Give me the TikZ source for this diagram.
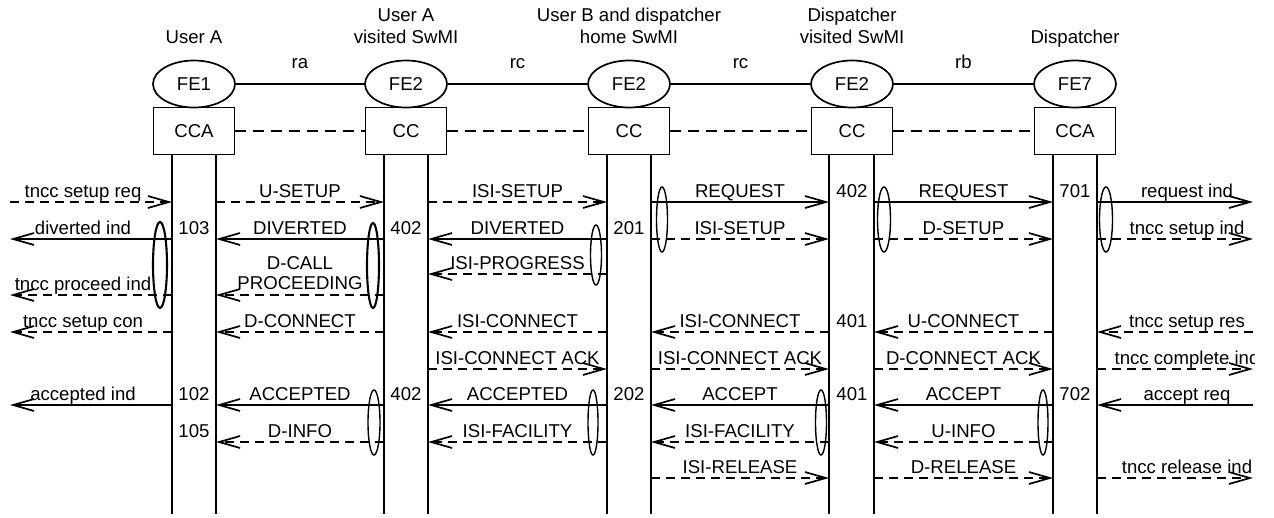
\documentclass[tikz,border=0pt]{standalone}
\usepackage{fontspec}
\setmainfont{Liberation Sans}
\usetikzlibrary{arrows.meta,shapes.geometric}
\newcommand\msgline[5]{\draw[#1] (#2 |- 0,#4) -- node[lbl]{#5} (#3 |- 0,#4);}
\begin{document}
\begin{tikzpicture}[x=1pt,y=-1pt,
  font=\fontsize{18.6pt}{22pt}\selectfont,
  line width=1.7pt,
  fe/.style={draw, ellipse, minimum width=82pt, minimum height=47pt, inner sep=0pt},
  ccbox/.style={draw, rectangle, minimum width=81pt, minimum height=47pt, inner sep=0pt},
  title/.style={anchor=south, align=center, inner sep=0pt, text depth=0pt},
  lbl/.style={anchor=base, inner sep=0pt, yshift=5pt},
  num/.style={anchor=base, inner sep=0pt},
  sol/.style={-{Straight Barb[length=21pt,width=12pt]}},
  das/.style={sol, dash pattern=on 9pt off 6pt},
  boxlink/.style={line width=2pt, dash pattern=on 11pt off 7pt},
  grp/.style={draw, ellipse, inner sep=0pt, line width=1.4pt},
  grpb/.style={grp, line width=2.1pt}]
\useasboundingbox (0,0) rectangle (1274,517);
% titles
\node[title] (t1) at (194,44) {User A};
\node[title] (t2) at (406,44) {User A\\visited SwMI};
\node[title] (t3) at (629,44) {User B and dispatcher\\home SwMI};
\node[title] (t4) at (852,44) {Dispatcher\\visited SwMI};
\node[title] (t5) at (1075,44) {Dispatcher};
% FE ellipses
\node[fe] (fe1) at (194,84) {FE1};
\node[fe] (fe2) at (406,84) {FE2};
\node[fe] (fe3) at (629,84) {FE2};
\node[fe] (fe4) at (852,84) {FE2};
\node[fe] (fe5) at (1075,84) {FE7};
\draw (fe1) -- node[num, yshift=16pt]{ra} (fe2);
\draw (fe2) -- node[num, yshift=16pt]{rc} (fe3);
\draw (fe3) -- node[num, yshift=16pt]{rc} (fe4);
\draw (fe4) -- node[num, yshift=16pt]{rb} (fe5);
% CC boxes
\node[ccbox] (cc1) at (194,131) {CCA};
\node[ccbox] (cc2) at (406,131) {CC};
\node[ccbox] (cc3) at (629,131) {CC};
\node[ccbox] (cc4) at (852,131) {CC};
\node[ccbox] (cc5) at (1075,131) {CCA};
\draw[boxlink] (cc1) -- (cc2);
\draw[boxlink] (cc2) -- (cc3);
\draw[boxlink] (cc3) -- (cc4);
\draw[boxlink] (cc4) -- (cc5);
% lifeline coordinates
\coordinate (a1) at (172,155); \coordinate (b1) at (216,155);
\coordinate (a2) at (384,155); \coordinate (b2) at (428,155);
\coordinate (a3) at (607,155); \coordinate (b3) at (651,155);
\coordinate (a4) at (829,155); \coordinate (b4) at (874,155);
\coordinate (a5) at (1053,155); \coordinate (b5) at (1097,155);
\coordinate (L) at (10,0); \coordinate (R) at (1253,0);
\foreach \c/\p in {cc1/a1,cc1/b1,cc2/a2,cc2/b2,cc3/a3,cc3/b3,cc4/a4,cc4/b4,cc5/a5,cc5/b5}
  \draw (\c.south -| \p) -- (\p |- 0,514);
% row 202
\msgline{das}{L}{a1}{202}{}
\msgline{das}{b1}{a2}{202}{U-SETUP}
\msgline{das}{b2}{a3}{202}{ISI-SETUP}
\msgline{sol}{b3}{a4}{202}{REQUEST}
\msgline{sol}{b4}{a5}{202}{REQUEST}
\msgline{sol}{b5}{R}{202}{}
% row 239
\msgline{sol}{a1}{L}{239}{}
\msgline{sol}{a2}{b1}{239}{DIVERTED}
\msgline{sol}{a3}{b2}{239}{DIVERTED}
\msgline{das}{b3}{a4}{239}{ISI-SETUP}
\msgline{das}{b4}{a5}{239}{D-SETUP}
\msgline{das}{b5}{R}{239}{}
% row 274
\msgline{das}{a3}{b2}{274}{ISI-PROGRESS}
% row 295
\msgline{das}{a1}{L}{295}{}
\draw[das] (a2 |- 0,295) -- node[title, yshift=5pt]{D-CALL\\[-2pt]PROCEEDING} (b1 |- 0,295);
% row 332
\msgline{das}{a1}{L}{332}{}
\msgline{das}{a2}{b1}{332}{D-CONNECT}
\msgline{das}{a3}{b2}{332}{ISI-CONNECT}
\msgline{das}{a4}{b3}{332}{ISI-CONNECT}
\msgline{das}{a5}{b4}{332}{U-CONNECT}
\msgline{das}{R}{b5}{332}{}
% row 369
\msgline{das}{b2}{a3}{369}{ISI-CONNECT ACK}
\msgline{das}{b3}{a4}{369}{ISI-CONNECT ACK}
\msgline{das}{b4}{a5}{369}{D-CONNECT ACK}
\msgline{das}{b5}{R}{369}{}
% row 405
\msgline{sol}{a1}{L}{405}{}
\msgline{sol}{a2}{b1}{405}{ACCEPTED}
\msgline{sol}{a3}{b2}{405}{ACCEPTED}
\msgline{sol}{a4}{b3}{405}{ACCEPT}
\msgline{sol}{a5}{b4}{405}{ACCEPT}
\msgline{sol}{R}{b5}{405}{}
% row 442
\msgline{das}{a2}{b1}{442}{D-INFO}
\msgline{das}{a3}{b2}{442}{ISI-FACILITY}
\msgline{das}{a4}{b3}{442}{ISI-FACILITY}
\msgline{das}{a5}{b4}{442}{U-INFO}
% row 478
\msgline{das}{b3}{a4}{478}{ISI-RELEASE}
\msgline{das}{b4}{a5}{478}{D-RELEASE}
\msgline{das}{b5}{R}{478}{}
% external labels
\node[num] (x1) at (83,197) {tncc setup req};
\node[num] (x2) at (83,234) {diverted ind};
\node[num] (x3) at (83,290) {tncc proceed ind};
\node[num] (x4) at (83,327) {tncc setup con};
\node[num] (x5) at (83,400) {accepted ind};
\begin{scope}
\clip (0,0) rectangle (1254,517);
\node[num] (y1) at (1187,197) {request ind};
\node[num] (y2) at (1187,234) {tncc setup ind};
\node[num] (y3) at (1187,327) {tncc setup res};
\node[num] (y4) at (1187,364) {tncc complete ind};
\node[num] (y5) at (1187,400) {accept req};
\node[num] (y6) at (1187,473) {tncc release ind};
\end{scope}
% numbers
\node[num] (n1) at (194,234) {103};
\node[num] (n2) at (406,234) {402};
\node[num] (n3) at (629,234) {201};
\node[num] (n4) at (852,197) {402};
\node[num] (n5) at (1075,197) {701};
\node[num] (n6) at (852,327) {401};
\node[num] (n7) at (194,400) {102};
\node[num] (n8) at (194,437) {105};
\node[num] (n9) at (406,400) {402};
\node[num] (n10) at (629,400) {202};
\node[num] (n11) at (852,400) {401};
\node[num] (n12) at (1075,400) {702};
% grouping ellipses
\node[grpb, minimum width=14pt, minimum height=86pt] (g1) at (160,265) {};
\node[grpb, minimum width=12pt, minimum height=85pt] (g2) at (373,265.5) {};
\node[grp, minimum width=11pt, minimum height=60pt] (g3) at (596,255) {};
\node[grp, minimum width=11pt, minimum height=65pt] (g4) at (662,219.5) {};
\node[grp, minimum width=13pt, minimum height=65pt] (g5) at (884,219.5) {};
\node[grp, minimum width=13pt, minimum height=65pt] (g6) at (1106,219.5) {};
\node[grp, minimum width=12pt, minimum height=65pt] (g7) at (374,422.5) {};
\node[grp, minimum width=10pt, minimum height=65pt] (g8) at (593,422.5) {};
\node[grp, minimum width=11pt, minimum height=65pt] (g9) at (821,422.5) {};
\node[grp, minimum width=10pt, minimum height=65pt] (g10) at (1043,422.5) {};
\end{tikzpicture}
\end{document}
